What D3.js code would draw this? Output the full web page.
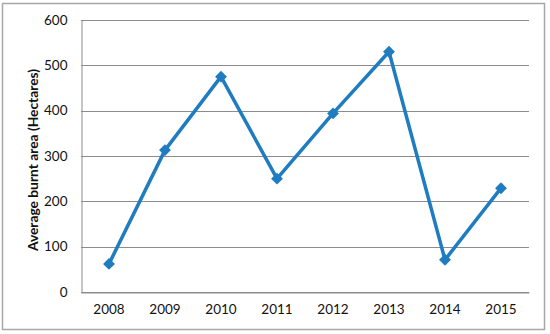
<!DOCTYPE html>
<html>
<head>
<meta charset="utf-8">
<script src="https://cdn.jsdelivr.net/npm/d3@7"></script>
<style>
  body { margin: 0; background: #fff; }
  svg text { font-family: Lato, "Open Sans", sans-serif; fill: #111; }
</style>
</head>
<body>
<script>
// data
const years = ['2008', '2009', '2010', '2011', '2012', '2013', '2014', '2015'];
const burnt = [62, 313, 475, 250, 394, 530, 71, 229];
const yTicks = [0, 100, 200, 300, 400, 500, 600];

const width = 550;
const height = 334;
const margin = { top: 20, right: 21, bottom: 42, left: 81 };

const svg = d3.select('body')
  .append('svg')
  .attr('width', width)
  .attr('height', height);

// chart border
svg.append('rect')
  .attr('x', 2.5)
  .attr('y', 3.5)
  .attr('width', 542)
  .attr('height', 326)
  .attr('fill', 'none')
  .attr('stroke', '#a6a6a6')
  .attr('stroke-width', 1.5);

const x = d3.scaleBand()
  .domain(years)
  .range([margin.left, width - margin.right]);

const y = d3.scaleLinear()
  .domain([0, 600])
  .range([height - margin.bottom, margin.top]);

// gridlines
svg.append('g')
  .selectAll('line')
  .data(yTicks)
  .enter()
  .append('line')
  .attr('x1', margin.left)
  .attr('x2', width - margin.right)
  .attr('y1', d => Math.round(y(d)) + 0.5)
  .attr('y2', d => Math.round(y(d)) + 0.5)
  .attr('stroke', '#8c8c8c')
  .attr('stroke-width', 1);

// y axis
const yAxis = svg.append('g')
  .attr('transform', `translate(${margin.left + 0.5},0)`)
  .call(d3.axisLeft(y).tickValues(yTicks).tickSize(0).tickPadding(14));
yAxis.select('.domain').attr('stroke', '#8c8c8c');
yAxis.selectAll('text').attr('font-size', 13.5);

// x axis
const xAxis = svg.append('g')
  .attr('transform', `translate(0,${Math.round(y(0)) + 0.5})`)
  .call(d3.axisBottom(x).tickSize(0).tickPadding(12));
xAxis.select('.domain').attr('stroke', '#8c8c8c');
xAxis.selectAll('text').attr('font-size', 13.5);

// y title
svg.append('text')
  .attr('transform', 'translate(38,160) rotate(-90)')
  .attr('text-anchor', 'middle')
  .attr('font-size', 13.8)
  .attr('font-weight', 'bold')
  .text('Average burnt area (Hectares)');

// line
const line = d3.line()
  .x((d, i) => x(years[i]) + x.bandwidth() / 2)
  .y(d => y(d));

svg.append('path')
  .datum(burnt)
  .attr('d', line)
  .attr('fill', 'none')
  .attr('stroke', '#1f7cc0')
  .attr('stroke-width', 3.5)
  .attr('stroke-linejoin', 'round');

// markers
svg.append('g')
  .selectAll('path')
  .data(burnt)
  .enter()
  .append('path')
  .attr('d', d3.symbol().type(d3.symbolDiamond2).size(90))
  .attr('transform', (d, i) => `translate(${x(years[i]) + x.bandwidth() / 2},${y(d)})`)
  .attr('fill', '#1f7cc0');
</script>
</body>
</html>
